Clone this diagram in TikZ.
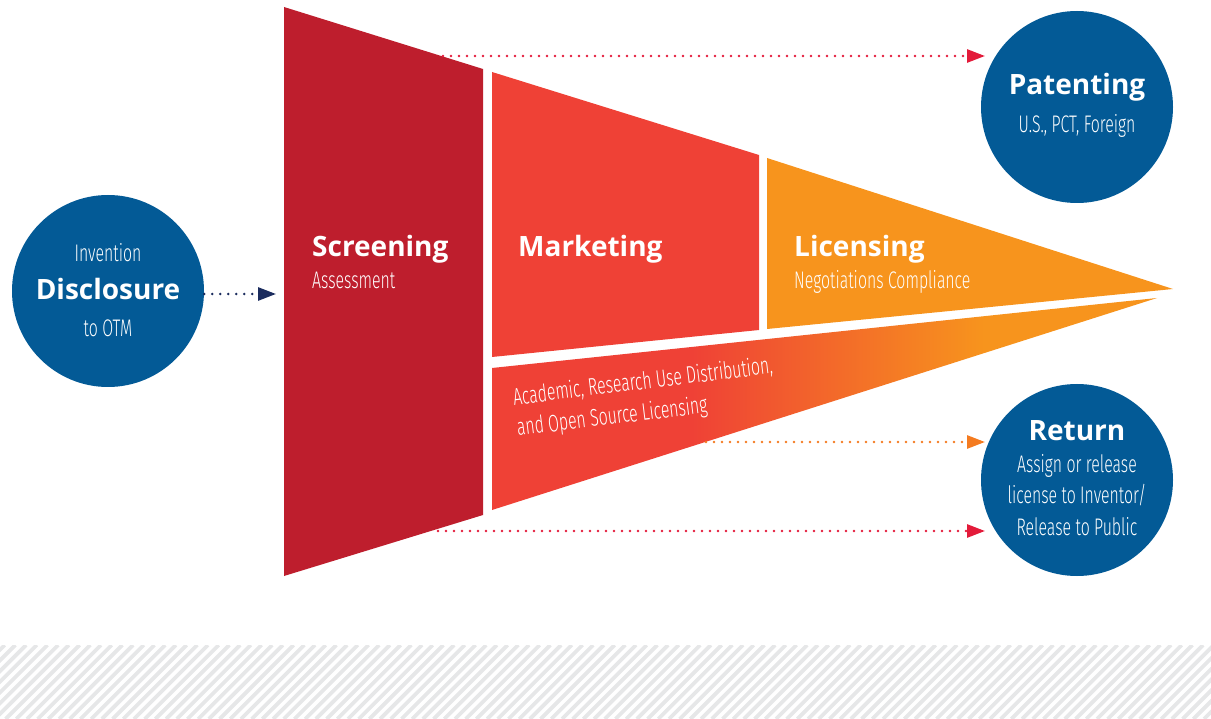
\documentclass[tikz,border=0pt]{standalone}
\usepackage{fontspec}
\setmainfont{Open Sans}
\newfontfamily\condfont[FakeStretch=0.66]{Fira Sans Light}
\usetikzlibrary{arrows.meta}
\definecolor{scrred}{HTML}{BE1E2D}
\definecolor{mktred}{HTML}{EF4136}
\definecolor{licorange}{HTML}{F7941D}
\definecolor{otmblue}{HTML}{035A96}
\definecolor{navy}{HTML}{1B2C5E}
\definecolor{arrred}{HTML}{E31B3A}
\definecolor{arrorange}{HTML}{F47B20}
\definecolor{stripe}{HTML}{E6E7E8}
\pgfdeclarehorizontalshading{acshade}{100bp}{color(0bp)=(mktred); color(40bp)=(mktred); color(62bp)=(licorange); color(100bp)=(licorange)}
\tikzset{stage/.style={white,font=\bfseries\fontsize{28}{30}\selectfont,anchor=base west,inner sep=0pt},
 sub/.style={white,font=\condfont\fontsize{24}{31}\selectfont,anchor=base west,inner sep=0pt},
 otm/.style={circle,fill=otmblue,minimum size=192pt,inner sep=0pt},
 dots/.style={line width=2.7pt,dash pattern=on 0pt off 8pt,line cap=round},
 tip/.style={-{Triangle[length=18pt,width=13pt]}},
 }

\begin{document}
\begin{tikzpicture}[x=1pt,y=-1pt]
        \useasboundingbox (0,0) rectangle (1211,719);
        % striped band at the foot
        \begin{scope}
            \clip (0,645) rectangle (1211,719);
            \foreach \s in {-80,-69.3,...,1220}
                \draw[stripe,line width=3.8pt] (\s,719) -- ++(74,-74);
        \end{scope}
        % funnel
        \fill[scrred] (284,7) -- (483,69) -- (483,515) -- (284,576) -- cycle;
        \fill[mktred] (492,72) -- (759,155) -- (759,330) -- (492,357) -- cycle;
        \fill[licorange] (767,158) -- (1173,289) -- (767,329) -- cycle;
        \shade[shading=acshade] (492,368) -- (1157,298) -- (492,510) -- cycle;
        \node[stage] (scr) at (312,257) {Screening};
        \node[sub] (scrsub) at (312,289) {Assessment};
        \node[stage] (mkt) at (518,257) {Marketing};
        \node[stage] (lic) at (794,257) {Licensing};
        \node[sub] (licsub) at (794,289) {Negotiations Compliance};
        \node[sub,rotate=7,anchor=west,align=left] (acad) at (515,414)
            {Academic, Research Use Distribution,\\and Open Source Licensing};
        % circles
        \node[otm] (disc) at (108,291) {};
        \node[sub,anchor=base] (disc1) at (108,262) {Invention};
        \node[stage,anchor=base] (disc2) at (108,300) {Disclosure};
        \node[sub,anchor=base] (disc3) at (108,337) {to OTM};
        \node[otm] (pat) at (1077,107) {};
        \node[stage,anchor=base] (pat1) at (1077,95) {Patenting};
        \node[sub,anchor=base] (pat2) at (1077,133) {U.S., PCT, Foreign};
        \node[otm] (ret) at (1077,480) {};
        \node[stage,anchor=base] (ret1) at (1077,440) {Return};
        \node[sub,anchor=base] (ret2) at (1077,472) {Assign or release};
        \node[sub,anchor=base] (ret3) at (1077,503) {license to Inventor/};
        \node[sub,anchor=base] (ret4) at (1077,535) {Release to Public};
        % dotted arrows
        \coordinate (scrin) at (276,294);
        \coordinate (scrtop) at (443,56);
        \coordinate (patin) at (985,56);
        \coordinate (acout) at (706,442);
        \coordinate (retin) at (985,442);
        \coordinate (scrout) at (438,531);
        \coordinate (retlow) at (985,531);
        \draw[dots,tip,navy] (scrin -| disc.east) -- (scrin);
        \draw[dots,tip,arrred] (scrtop) -- (patin);
        \draw[dots,tip,arrorange] (acout) -- (retin);
        \draw[dots,tip,arrred] (scrout) -- (retlow);
    \end{tikzpicture}
\end{document}
